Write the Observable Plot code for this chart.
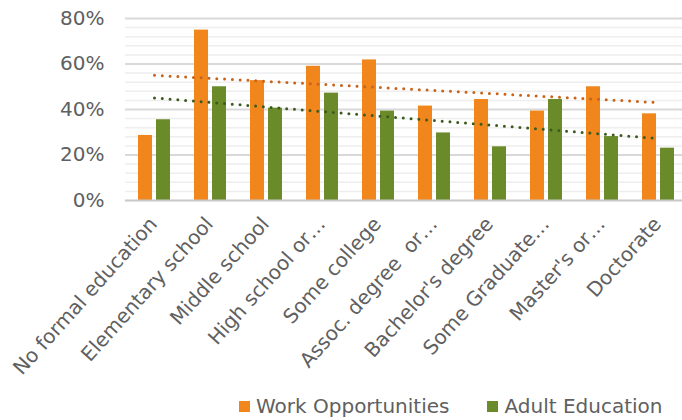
<!DOCTYPE html>
<html><head><meta charset="utf-8">
<script src="https://cdn.jsdelivr.net/npm/d3@7"></script>
<script src="https://cdn.jsdelivr.net/npm/@observablehq/plot@0.6"></script>
<style>
html,body{margin:0;padding:0;background:#fff;overflow:hidden;width:682px;height:420px;}
#chart svg{display:block;overflow:hidden;}
.legend{display:flex;align-items:center;height:28px;padding-left:239px;font-family:"DejaVu Sans",sans-serif;font-size:20px;color:#606060;white-space:nowrap;}
.legend .sw{display:inline-block;width:11px;height:11px;margin-right:6px;}
.legend .item{display:flex;align-items:center;margin-right:38px;}
</style></head><body>
<div id="chart"></div>
<div class="legend" id="legend"></div>
<script>
const categories = ["No formal education","Elementary school","Middle school","High school or…","Some college","Assoc. degree  or…","Bachelor's degree","Some Graduate…","Master's or…","Doctorate"];
const workOpportunities = [28.6, 74.9, 52.7, 59.0, 61.8, 41.5, 44.4, 39.3, 50.0, 38.1];
const adultEducation = [35.5, 50.0, 40.6, 47.2, 39.3, 29.7, 23.6, 44.4, 28.1, 23.0];
const seriesNames = ["Work Opportunities", "Adult Education"];
const seriesColors = ["#F0861C", "#6B8B2A"];
const trendColors = ["#C9621A", "#3B5B1E"];
const yTicks = [0, 20, 40, 60, 80];
const yMinorTicks = [4, 8, 12, 16, 24, 28, 32, 36, 44, 48, 52, 56, 64, 68, 72, 76];

// least-squares trend over category index (like the spreadsheet's linear trendline)
function linearTrend(values) {
  const mx = d3.mean(values, (_, i) => i), my = d3.mean(values);
  let sxy = 0, sxx = 0;
  values.forEach((v, i) => { sxy += (i - mx) * (v - my); sxx += (i - mx) ** 2; });
  const b = sxy / sxx, a = my - b * mx;
  return categories.map((c, i) => ({category: c, value: a + b * i}));
}

const workData = categories.map((c, i) => ({category: c, value: workOpportunities[i]}));
const adultData = categories.map((c, i) => ({category: c, value: adultEducation[i]}));
const workTrend = linearTrend(workOpportunities);
const adultTrend = linearTrend(adultEducation);

const chart = Plot.plot({
  width: 682, height: 392,
  marginLeft: 125, marginRight: -5, marginTop: 18, marginBottom: 192,
  style: {fontFamily: "DejaVu Sans", fontSize: "20px", color: "#606060", background: "#fff"},
  x: {domain: categories, padding: 0, label: null},
  y: {domain: [0, 80], label: null},
  marks: [
    Plot.ruleY(yMinorTicks, {stroke: "#eeeeee", strokeWidth: 1.5}),
    Plot.ruleY(yTicks.filter(t => t > 0), {stroke: "#d9d9d9", strokeWidth: 2}),
    Plot.barY(workData, {x: "category", y: "value", fill: seriesColors[0], insetLeft: 12, insetRight: 30}),
    Plot.barY(adultData, {x: "category", y: "value", fill: seriesColors[1], insetLeft: 30, insetRight: 12}),
    Plot.ruleY([0], {stroke: "#c8c8c8", strokeWidth: 2}),
    Plot.line(workTrend, {x: "category", y: "value", stroke: trendColors[0], strokeWidth: 3, strokeDasharray: "0 7.8", strokeLinecap: "round"}),
    Plot.line(adultTrend, {x: "category", y: "value", stroke: trendColors[1], strokeWidth: 3, strokeDasharray: "0 7.8", strokeLinecap: "round"}),
    Plot.axisY({ticks: yTicks, tickFormat: d => d + "%", tickSize: 0, tickPadding: 21, fontSize: 20, label: null}),
    Plot.axisX({tickSize: 0, tickRotate: -48, tickPadding: 20, fontSize: 20, dx: -1, label: null})
  ]
});
document.getElementById("chart").appendChild(chart);

const legend = document.getElementById("legend");
seriesNames.forEach((name, i) => {
  const item = document.createElement("span");
  item.className = "item";
  const sw = document.createElement("span");
  sw.className = "sw";
  sw.style.background = seriesColors[i];
  item.appendChild(sw);
  item.appendChild(document.createTextNode(name));
  legend.appendChild(item);
});
</script>
</body></html>
